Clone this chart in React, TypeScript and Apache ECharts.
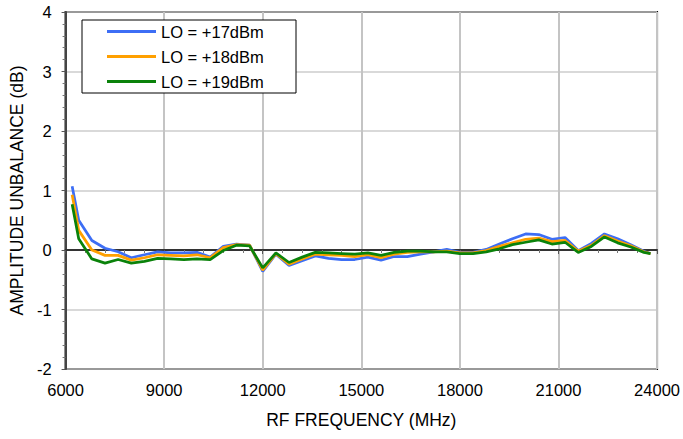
import React, { useEffect, useRef } from "react";
import * as echarts from "echarts";

const freqs = [6200, 6400, 6800, 7200, 7600, 8000, 8400, 8800, 9200, 9600, 10000, 10400, 10800, 11200, 11600, 12000, 12400, 12800, 13200, 13600, 14000, 14400, 14800, 15200, 15600, 16000, 16400, 16800, 17200, 17600, 18000, 18400, 18800, 19200, 19600, 20000, 20400, 20800, 21200, 21600, 22000, 22400, 22800, 23200, 23600, 23800];

const lo17 = [1.07, 0.50, 0.16, 0.03, -0.03, -0.13, -0.08, -0.03, -0.05, -0.05, -0.04, -0.12, 0.06, 0.10, 0.08, -0.36, -0.07, -0.26, -0.18, -0.10, -0.14, -0.16, -0.16, -0.12, -0.17, -0.11, -0.11, -0.07, -0.03, 0.01, -0.04, -0.04, 0.01, 0.10, 0.19, 0.27, 0.26, 0.18, 0.21, -0.01, 0.11, 0.27, 0.19, 0.09, -0.02, -0.06];
const lo18 = [0.93, 0.33, 0.00, -0.09, -0.09, -0.17, -0.13, -0.08, -0.09, -0.10, -0.08, -0.13, 0.04, 0.09, 0.08, -0.34, -0.06, -0.24, -0.15, -0.07, -0.08, -0.09, -0.11, -0.08, -0.13, -0.07, -0.04, -0.03, -0.03, -0.02, -0.05, -0.05, -0.01, 0.06, 0.12, 0.18, 0.20, 0.14, 0.16, -0.02, 0.08, 0.24, 0.15, 0.07, -0.03, -0.06];
const lo19 = [0.77, 0.19, -0.15, -0.22, -0.16, -0.22, -0.19, -0.14, -0.15, -0.16, -0.15, -0.16, -0.01, 0.08, 0.07, -0.30, -0.05, -0.21, -0.12, -0.04, -0.05, -0.06, -0.07, -0.05, -0.09, -0.04, -0.02, -0.02, -0.03, -0.03, -0.06, -0.06, -0.03, 0.02, 0.09, 0.13, 0.17, 0.10, 0.13, -0.04, 0.06, 0.22, 0.12, 0.05, -0.04, -0.06];

const seriesNames = ["LO = +17dBm", "LO = +18dBm", "LO = +19dBm"];
const seriesColors = ["#3d6ef5", "#ffa000", "#0a820a"];
const xTitle = "RF FREQUENCY (MHz)";
const yTitle = "AMPLITUDE UNBALANCE (dB)";

const FONT = "Liberation Sans, Arial, sans-serif";

export default function App() {
  const ref = useRef<HTMLDivElement>(null);
  useEffect(() => {
    if (!ref.current) return;
    const chart = echarts.init(ref.current, undefined, { renderer: "svg" });
    const all = [lo17, lo18, lo19];
    chart.setOption({
      animation: false,
      backgroundColor: "#ffffff",
      textStyle: { fontFamily: FONT },
      grid: {
        left: 65,
        top: 12,
        right: 24,
        bottom: 70,
        show: true,
        borderColor: "#000",
        borderWidth: 2,
        backgroundColor: "transparent",
      },
      legend: {
        left: 82,
        top: 23,
        orient: "vertical",
        padding: [0, 0, 0, 25],
        itemWidth: 49,
        itemHeight: 3,
        itemGap: 8,
        textStyle: { fontFamily: FONT, fontSize: 16.5, color: "#000", lineHeight: 17 },
        icon: "rect",
        data: seriesNames.map((n, i) => ({
          name: n,
          itemStyle: { color: seriesColors[i] },
        })),
        z: 5,
      },
      graphic: [
        {
          type: "rect",
          z: 4,
          shape: { x: 82, y: 20, width: 214, height: 73 },
          style: { fill: "#fff", stroke: "#000", lineWidth: 1 },
        },
      ],
      xAxis: {
        type: "value",
        min: 6000,
        max: 24000,
        interval: 3000,
        name: xTitle,
        nameLocation: "middle",
        nameGap: 42,
        nameTextStyle: { fontFamily: FONT, fontSize: 17.5, color: "#000" },
        axisLine: { show: true, lineStyle: { color: "#333", width: 2 } },
        axisTick: { show: true, length: 4, inside: false, lineStyle: { color: "#555" } },
        minorTick: { show: true, splitNumber: 5, length: 3, lineStyle: { color: "#777" } },
        axisLabel: {
          fontFamily: FONT,
          fontSize: 16.5,
          color: "#000",
          margin: 12,
          formatter: (v: number) => String(v),
        },
        splitLine: { show: true, lineStyle: { color: "#c4c4c4", width: 2 } },
      },
      yAxis: {
        type: "value",
        min: -2,
        max: 4,
        interval: 1,
        name: yTitle,
        nameLocation: "middle",
        nameGap: 38,
        nameRotate: 90,
        nameTextStyle: { fontFamily: FONT, fontSize: 17.5, color: "#000" },
        axisLine: { show: true, lineStyle: { color: "#444", width: 2 } },
        axisTick: { show: true, length: 4, inside: false, lineStyle: { color: "#555" } },
        minorTick: { show: true, splitNumber: 5, length: 3, lineStyle: { color: "#777" } },
        axisLabel: { fontFamily: FONT, fontSize: 16.5, color: "#000", margin: 14 },
        splitLine: { show: true, lineStyle: { color: "#cccccc", width: 1.5 } },
      },
      series: seriesNames.map((n, i) => ({
        name: n,
        type: "line",
        data: freqs.map((f, k) => [f, all[i][k]]),
        showSymbol: false,
        symbol: "none",
        lineStyle: { color: seriesColors[i], width: 2.75 },
        itemStyle: { color: seriesColors[i] },
        z: 2 + i,
      })),
    });
    return () => chart.dispose();
  }, []);
  return (
    <div
      ref={ref}
      style={{ position: "fixed", left: 0, top: 0, width: 683, height: 439 }}
    />
  );
}
